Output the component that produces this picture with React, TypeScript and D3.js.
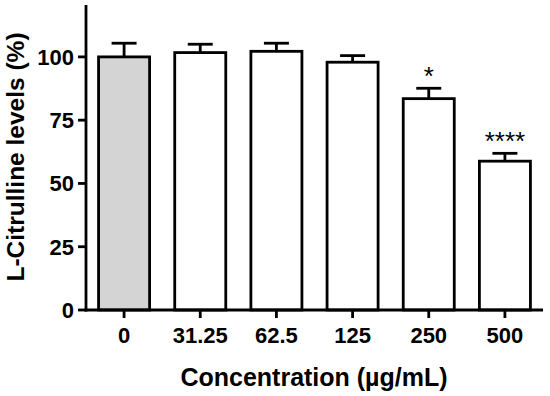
import { scaleBand, scaleLinear } from "d3";

const concentrations = ["0", "31.25", "62.5", "125", "250", "500"];
const means = [100, 101.7, 102.2, 97.9, 83.5, 58.8];
const errors = [5.4, 3.3, 3.2, 2.6, 4.1, 3.1];
const stars = ["", "", "", "", "*", "****"];
const yTicks = [0, 25, 50, 75, 100];

export default function App() {
  const width = 550;
  const height = 396;
  const left = 86;
  const right = 543;
  const top = 5;
  const bottom = 310;
  const font = "'Liberation Sans', Arial, sans-serif";

  const x = scaleBand<string>()
    .domain(concentrations)
    .range([left, right])
    .paddingInner(0.33)
    .paddingOuter(0.165);

  const y = scaleLinear().domain([0, 120.5]).range([bottom, top]);
  const bw = x.bandwidth();

  return (
    <svg
      width={width}
      height={height}
      style={{ position: "absolute", left: 0, top: 0, background: "#fff" }}
      fontFamily={font}
    >
      {concentrations.map((c, i) => {
        const cx = (x(c) ?? 0) + bw / 2;
        const capY = y(means[i] + errors[i]);
        return (
          <g key={c}>
            <line x1={cx} x2={cx} y1={y(means[i])} y2={capY} stroke="#000" strokeWidth={2.8} />
            <line x1={cx - 12.5} x2={cx + 12.5} y1={capY} y2={capY} stroke="#000" strokeWidth={2.8} />
            <rect
              x={x(c)}
              y={y(means[i])}
              width={bw}
              height={bottom - y(means[i])}
              fill={i === 0 ? "#d4d4d4" : "#fff"}
              stroke="#000"
              strokeWidth={2.8}
            />
            {stars[i] ? (
              <text x={cx} y={capY - 3} textAnchor="middle" fontSize={26}>
                {stars[i]}
              </text>
            ) : null}
            <line x1={cx} x2={cx} y1={bottom} y2={bottom + 8} stroke="#000" strokeWidth={2.8} />
            <text x={cx} y={bottom + 33} textAnchor="middle" fontSize={22} fontWeight="bold">
              {c}
            </text>
          </g>
        );
      })}

      {yTicks.map((t) => (
        <g key={t}>
          <line x1={left - 8} x2={left} y1={y(t)} y2={y(t)} stroke="#000" strokeWidth={2.8} />
          <text x={left - 12} y={y(t) + 8} textAnchor="end" fontSize={22} fontWeight="bold">
            {t}
          </text>
        </g>
      ))}

      <line x1={left} x2={left} y1={top} y2={bottom + 1.4} stroke="#000" strokeWidth={2.8} />
      <line x1={left - 1.4} x2={right} y1={bottom} y2={bottom} stroke="#000" strokeWidth={2.8} />

      <text x={314} y={386} textAnchor="middle" fontSize={25} fontWeight="bold">
        Concentration (µg/mL)
      </text>
      <text
        transform={`translate(24, 157) rotate(-90)`}
        textAnchor="middle"
        fontSize={24.5}
        fontWeight="bold"
      >
        L-Citrulline levels (%)
      </text>
    </svg>
  );
}
